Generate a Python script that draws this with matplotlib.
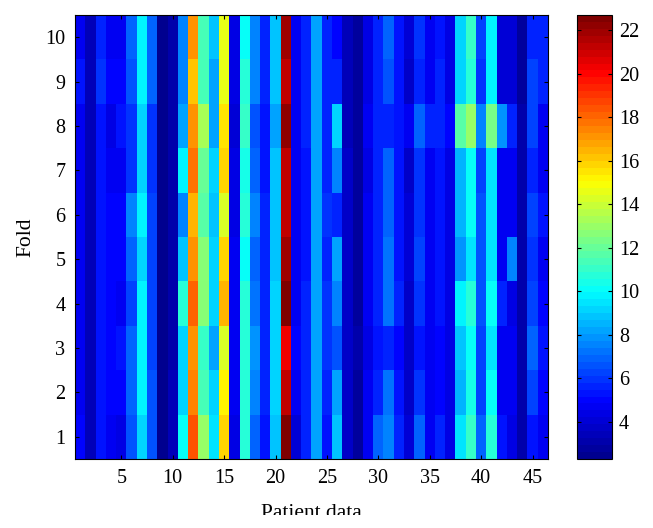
# -*- coding: utf-8 -*-

import numpy as np
import matplotlib
matplotlib.use('Agg')
import matplotlib.pyplot as plt
from matplotlib.colors import LinearSegmentedColormap
from matplotlib.patches import Rectangle

plt.rcParams['font.family'] = ['Liberation Serif', 'DejaVu Serif']

# one list per fold, 46 patients each
fold1 = [4.9,3.5,5.3,4.8,4.4,6.5,9.1,6.5,2.6,3.5,9.95,18.5,13.0,9.5,15.9,4.5,10.8,6.8,5.2,8.9,22.6,4.2,5.6,8.3,5.3,8.7,3.7,2.8,4.7,6.9,7.5,5.5,4.2,7.0,4.7,5.7,4.5,9.4,11.2,7.0,10.7,5.2,4.5,3.1,5.2,4.8]
fold2 = [4.8,3.5,5.4,4.9,5.0,6.8,9.9,6.5,2.6,3.3,9.3,17.4,11.5,9.1,15.2,4.6,10.8,7.7,5.7,9.0,21.4,4.8,5.5,8.2,5.8,8.3,3.7,2.9,4.6,5.5,7.2,5.4,3.7,6.1,4.7,5.1,4.3,8.4,10.5,6.4,10.0,4.7,4.6,3.0,6.4,5.0]
fold3 = [4.8,3.5,5.4,4.9,5.4,7.0,9.8,6.4,2.6,3.2,9.1,17.2,11.1,8.3,14.1,4.6,10.8,7.9,5.8,9.1,20.2,5.0,5.5,8.2,6.0,6.6,3.8,3.0,4.5,5.2,5.5,4.9,3.6,5.3,4.7,5.0,4.3,8.7,10.2,6.2,9.6,4.7,4.6,3.0,7.0,5.3]
fold4 = [4.8,3.4,5.4,4.9,4.8,6.3,9.9,6.3,2.6,3.2,10.6,18.1,12.6,9.0,16.6,4.6,10.8,7.3,5.6,9.1,22.4,4.7,5.5,8.2,5.9,7.5,3.8,2.8,4.7,5.7,7.1,5.6,3.8,6.1,4.8,5.3,4.4,9.7,10.9,6.6,10.0,5.5,4.5,3.1,6.2,5.0]
fold5 = [4.8,3.4,5.4,4.9,4.9,7.0,9.2,6.3,2.5,3.2,8.7,17.2,12.6,9.1,15.9,4.6,10.2,6.8,5.5,8.8,21.8,4.8,5.4,8.2,5.5,8.3,3.7,2.8,4.7,5.6,7.2,5.4,3.9,6.3,4.8,5.2,4.3,7.9,9.5,6.6,9.6,4.7,7.7,3.1,6.0,4.8]
fold6 = [4.8,3.4,5.4,4.9,4.9,7.4,9.9,6.3,2.5,3.1,7.5,16.6,11.7,8.7,14.3,4.5,10.9,7.5,5.5,8.8,21.4,4.8,5.4,8.2,5.9,5.7,3.6,2.8,4.6,5.6,7.0,5.3,3.9,5.9,4.8,5.3,4.4,8.5,10.0,6.5,9.6,4.7,4.6,3.0,6.3,5.2]
fold7 = [4.8,3.3,5.4,4.8,4.8,6.0,9.0,5.9,2.5,3.2,9.9,17.75,12.15,9.1,15.7,4.5,10.5,6.9,5.4,8.7,21.2,4.8,5.3,8.2,5.5,7.5,3.6,2.8,4.5,5.5,6.8,5.3,3.8,6.1,4.7,5.3,4.3,8.4,10.0,6.4,9.5,4.7,4.7,3.0,5.7,4.8]
fold8 = [4.7,3.4,5.2,4.5,5.3,6.0,9.0,6.0,2.5,3.2,8.2,17.0,13.4,8.3,15.5,3.9,11.1,6.6,5.2,8.3,22.1,4.8,5.5,8.2,5.5,9.1,3.4,2.7,4.7,5.7,5.7,5.2,4.7,7.0,5.7,5.7,5.0,11.7,13.0,7.7,12.2,7.9,5.7,3.0,6.4,4.7]
fold9 = [5.3,3.3,5.9,4.9,5.0,6.7,9.8,7.0,2.5,3.0,7.5,16.3,11.3,8.3,14.7,4.5,10.6,7.5,5.7,8.9,21.4,4.8,5.5,8.2,5.7,5.7,3.5,2.9,4.5,5.6,6.6,5.2,3.8,5.7,4.7,5.5,4.3,9.1,10.9,6.0,9.9,4.1,3.9,2.9,6.3,5.5]
fold10 = [4.8,3.3,5.7,4.8,4.8,6.9,9.7,6.9,2.5,3.0,7.5,17.0,11.5,8.7,14.7,4.5,10.2,7.5,5.7,8.7,22.0,4.8,5.5,8.2,5.7,5.0,3.5,2.8,4.5,5.5,7.0,5.3,3.9,6.0,4.7,5.3,4.3,9.1,11.1,6.4,9.7,4.1,3.9,2.9,5.7,5.5]

xtick_vals = [5, 10, 15, 20, 25, 30, 35, 40, 45]
ytick_vals = [1, 2, 3, 4, 5, 6, 7, 8, 9, 10]
cbar_tick_vals = [4, 6, 8, 10, 12, 14, 16, 18, 20, 22]

grid = np.array([fold1, fold2, fold3, fold4, fold5, fold6, fold7, fold8, fold9, fold10])

W, H = 653, 528
fig = plt.figure(figsize=(W / 100, H / 100), dpi=100)
ax = fig.add_axes([75 / W, 1 - 459 / H, 473 / W, 444 / H])
cax = fig.add_axes([577 / W, 1 - 459 / H, 35 / W, 444 / H])

# matlab's jet, matplotlib's own has cyan and yellow in slightly other places
matlab_jet = LinearSegmentedColormap.from_list('matlab_jet', [
    (0.0, (0, 0, 0.5625)),
    (0.125, (0, 0, 1)),
    (0.375, (0, 1, 1)),
    (0.625, (1, 1, 0)),
    (0.875, (1, 0, 0)),
    (1.0, (0.5, 0, 0)),
], N=64)

im = ax.imshow(grid, origin='lower', aspect='auto', cmap=matlab_jet, vmin=2.3, vmax=22.7,
               interpolation='nearest', extent=[0.5, 46.5, 0.5, 10.5])

ax.set_xticks(xtick_vals)
ax.set_yticks(ytick_vals)
ax.tick_params(direction='in', top=True, right=True, length=3, width=0.8, labelsize=14.5, pad=7)
ax.set_xlabel('Patient data', fontsize=15.5, labelpad=12)
ax.set_ylabel('Fold', fontsize=15.5, labelpad=7)

cb = fig.colorbar(im, cax=cax)
cb.set_ticks(cbar_tick_vals)
cax.tick_params(direction='in', left=True, right=True, length=3, width=0.8, labelsize=14.5, pad=5)

# the reference is cropped through the x label
fig.add_artist(Rectangle((0, 0), 1, (H - 515) / H, transform=fig.transFigure,
                         facecolor='white', edgecolor='none', zorder=10))

plt.savefig('out.png', dpi=100)
